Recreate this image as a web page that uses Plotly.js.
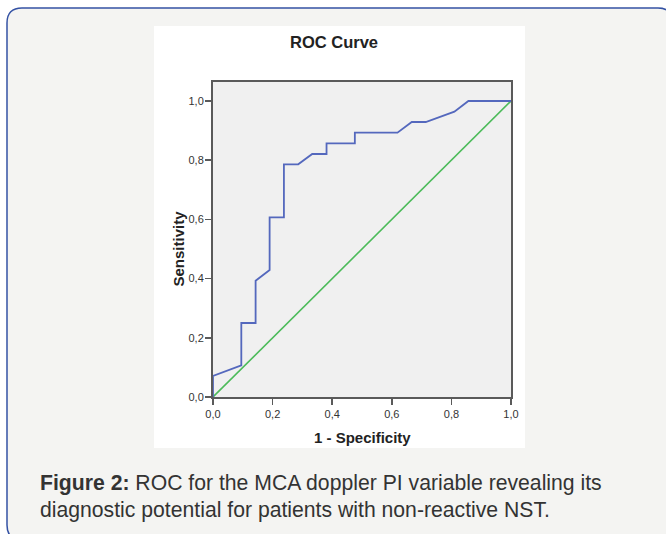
<!DOCTYPE html>
<html>
<head>
<meta charset="utf-8">
<script src="https://cdn.plot.ly/plotly-3.0.1.min.js"></script>
<style>
  html, body { margin: 0; padding: 0; background: #ffffff; }
  #chart { width: 666px; height: 534px; }
</style>
</head>
<body>
<div id="chart"></div>
<script>
// ---- data ----
const fpr = [0, 0, 0.095, 0.095, 0.143, 0.143, 0.190, 0.190, 0.238, 0.238, 0.286, 0.333, 0.381, 0.381, 0.476, 0.476, 0.619, 0.667, 0.714, 0.810, 0.857, 1.0];
const sensitivity = [0, 0.071, 0.107, 0.25, 0.25, 0.393, 0.429, 0.607, 0.607, 0.786, 0.786, 0.821, 0.821, 0.857, 0.857, 0.893, 0.893, 0.929, 0.929, 0.964, 1.0, 1.0];
const refX = [0, 1];
const refY = [0, 1];
const tickVals = [0, 0.2, 0.4, 0.6, 0.8, 1.0];
const titleText = "ROC Curve";
const xTitle = "1 - Specificity";
const yTitle = "Sensitivity";
const captionLine1 = "<b>Figure 2:</b> ROC for the MCA doppler PI variable revealing its";
const captionLine2 = "diagnostic potential for patients with non-reactive NST.";

// ---- layout geometry (pixels) ----
const FW = 666, FH = 534;
const L = 213, T = 82, R = 511, B = 397;
const W = R - L, H = B - T;
const fx = px => (px - L) / W;
const fy = py => 1 - (py - T) / H;
const yTop = H / 296; // axis units visible above 0

function roundRect(x0, y0, x1, y1, r) {
  const p = (x, y) => fx(x).toFixed(5) + ',' + fy(y).toFixed(5);
  return 'M' + p(x0 + r, y0) + ' L' + p(x1 - r, y0) + ' Q' + p(x1, y0) + ' ' + p(x1, y0 + r) +
    ' L' + p(x1, y1 - r) + ' Q' + p(x1, y1) + ' ' + p(x1 - r, y1) +
    ' L' + p(x0 + r, y1) + ' Q' + p(x0, y1) + ' ' + p(x0, y1 - r) +
    ' L' + p(x0, y0 + r) + ' Q' + p(x0, y0) + ' ' + p(x0 + r, y0) + ' Z';
}

const font = 'Liberation Sans, Arial, sans-serif';
const axisColor = '#5a5a5a';

const traces = [
  { x: refX, y: refY, type: 'scatter', mode: 'lines',
    line: { color: '#4cbb5a', width: 1.6 }, hoverinfo: 'skip' },
  { x: fpr, y: sensitivity, type: 'scatter', mode: 'lines',
    line: { color: '#5468bd', width: 1.8 }, hoverinfo: 'skip' }
];

const axisCommon = {
  showgrid: false, zeroline: false,
  showline: true, linecolor: axisColor, linewidth: 2, mirror: true,
  ticks: 'outside', ticklen: 6, tickwidth: 1.5, tickcolor: axisColor,
  tickvals: tickVals, tickformat: '.1f',
  tickfont: { family: font, size: 11, color: '#333333' },
  fixedrange: true
};

const layout = {
  width: FW, height: FH,
  margin: { l: L, r: FW - R, t: T, b: FH - B, pad: 0 },
  paper_bgcolor: '#ffffff',
  plot_bgcolor: 'rgba(0,0,0,0)',
  separators: ',.',
  showlegend: false,
  xaxis: Object.assign({}, axisCommon, { range: [0, 1] }),
  yaxis: Object.assign({}, axisCommon, { range: [0, yTop], ticklabelstandoff: -1 }),
  shapes: [
    { type: 'path', xref: 'paper', yref: 'paper', layer: 'below',
      path: roundRect(7, 8, 673, 540, 15),
      fillcolor: '#f4f4f2', line: { color: '#3452a4', width: 1.5 } },
    { type: 'rect', xref: 'paper', yref: 'paper', layer: 'below',
      x0: fx(154), x1: fx(525), y0: fy(448), y1: fy(26),
      fillcolor: '#ffffff', line: { width: 0 } },
    { type: 'rect', xref: 'paper', yref: 'paper', layer: 'below',
      x0: 0, x1: 1, y0: 0, y1: 1,
      fillcolor: '#f0f0f0', line: { width: 0 } }
  ],
  annotations: [
    { text: '<b>' + titleText + '</b>', xref: 'paper', yref: 'paper',
      x: fx(333.5), y: fy(42), xanchor: 'center', yanchor: 'middle', showarrow: false,
      font: { family: font, size: 16.5, color: '#222222' } },
    { text: '<b>' + xTitle + '</b>', xref: 'x', yref: 'paper',
      x: 0.5, y: fy(437), xanchor: 'center', yanchor: 'middle', showarrow: false,
      font: { family: font, size: 15, color: '#222222' } },
    { text: '<b>' + yTitle + '</b>', xref: 'paper', yref: 'y',
      x: fx(177.5), y: 0.5, xanchor: 'center', yanchor: 'middle', showarrow: false, textangle: -90,
      font: { family: font, size: 15, color: '#222222' } },
    { text: captionLine1, xref: 'paper', yref: 'paper',
      x: fx(38), y: fy(483), xanchor: 'left', yanchor: 'middle', showarrow: false, align: 'left',
      font: { family: font, size: 21.2, color: '#333333' } },
    { text: captionLine2, xref: 'paper', yref: 'paper',
      x: fx(38), y: fy(510), xanchor: 'left', yanchor: 'middle', showarrow: false, align: 'left',
      font: { family: font, size: 21.2, color: '#333333' } }
  ]
};

Plotly.newPlot('chart', traces, layout, { staticPlot: true, displayModeBar: false });
</script>
</body>
</html>
